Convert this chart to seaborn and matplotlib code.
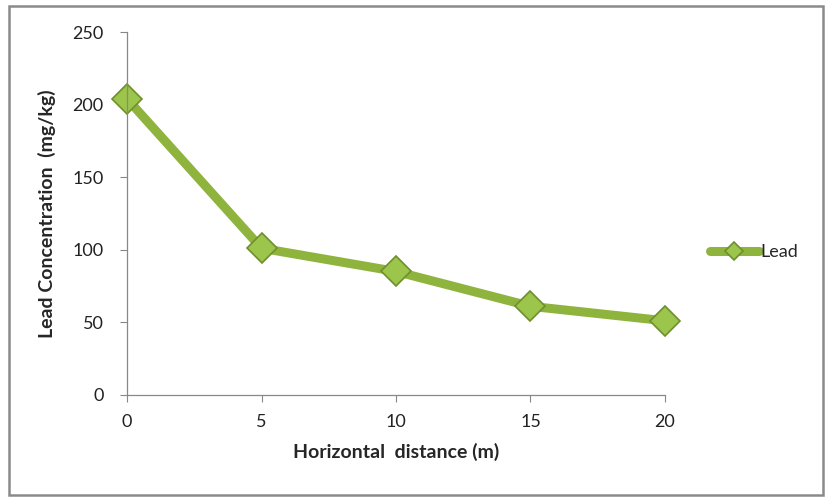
import pandas as pd
import seaborn as sns
import matplotlib.pyplot as plt
from matplotlib.patches import Rectangle

# valeurs
distance = [0, 5, 10, 15, 20]
lead = [204, 101, 85, 61, 51]
y_ticks = [0, 50, 100, 150, 200, 250]

df = pd.DataFrame({"distance": distance, "lead": lead})

sns.set_style("white")
plt.rcParams["font.family"] = ["Lato", "DejaVu Sans"]

fig = plt.figure(figsize=(8.25, 5.01), dpi=100)
ax = fig.add_axes([0.154, 0.212, 0.652, 0.724])

sns.lineplot(data=df, x="distance", y="lead", ax=ax, color="#8fb43e", linewidth=6.5,
             marker="D", markersize=15, markerfacecolor="#9cc54b",
             markeredgecolor="#6f8f2e", markeredgewidth=1.2, label="Lead")
for line in ax.lines:
    line.set_clip_on(False)

ax.set_xlim(0, 20)
ax.set_ylim(0, 250)
ax.set_xticks(distance)
ax.set_yticks(y_ticks)
ax.tick_params(axis="both", labelsize=13, labelcolor="#222222", length=5, width=0.8,
               direction="out", color="#888888", bottom=True, left=True)
ax.tick_params(axis="y", pad=12)
ax.tick_params(axis="x", pad=9)
for side in ["top", "right"]:
    ax.spines[side].set_visible(False)
for side in ["left", "bottom"]:
    ax.spines[side].set_color("#888888")
    ax.spines[side].set_linewidth(0.9)

ax.set_xlabel("Horizontal  distance (m)", fontsize=14, fontweight="bold", labelpad=9)
ax.set_ylabel("Lead Concentration  (mg/kg)", fontsize=14, fontweight="bold", labelpad=12)

ax.legend(loc="center left", bbox_to_anchor=(1.07, 0.394), frameon=False, fontsize=13,
          handlelength=2.7, handletextpad=0.1, borderaxespad=0.0, markerscale=0.6)

# cadre gris autour du graphique
fig.patches.append(Rectangle((0.011, 0.012), 0.986, 0.976, transform=fig.transFigure,
                             fill=False, edgecolor="#8a8a8a", linewidth=1.8))

fig.savefig("out.png", dpi=100)
